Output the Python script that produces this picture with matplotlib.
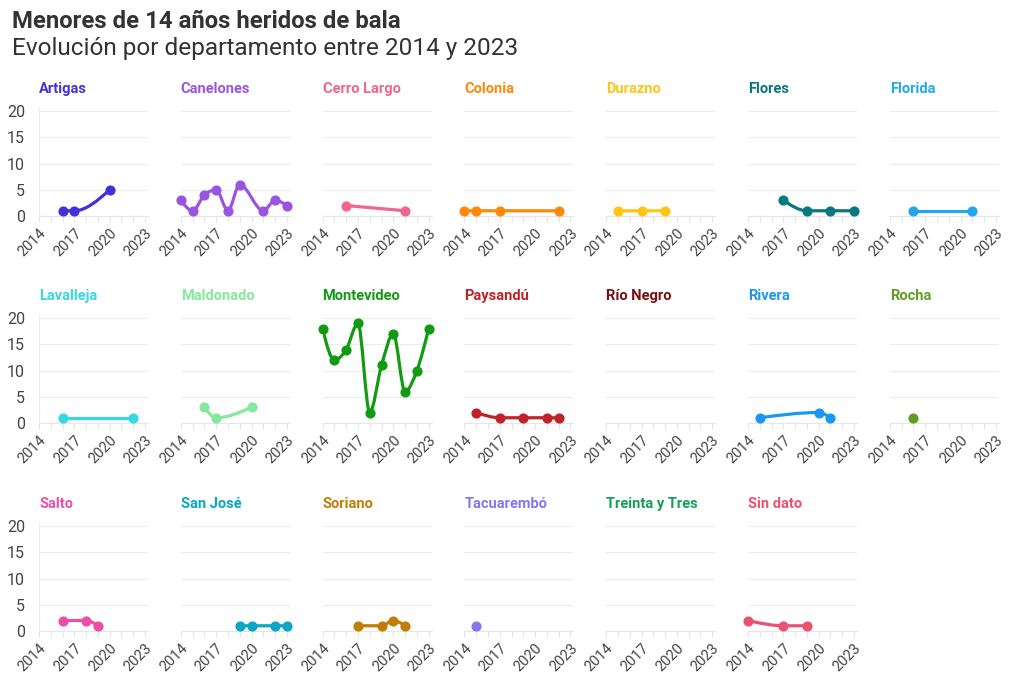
import numpy as np
import matplotlib.pyplot as plt
from matplotlib.path import Path
from matplotlib.patches import PathPatch

plt.rcParams['font.family'] = ['Roboto', 'DejaVu Sans']

################################################################################

years = [2014, 2015, 2016, 2017, 2018, 2019, 2020, 2021, 2022, 2023]

# heridos por año (None = sin registro)
artigas = [None, None, 1, 1, None, None, 5, None, None, None]
canelones = [3, 1, 4, 5, 1, 6, None, 1, 3, 2]
cerro_largo = [None, None, 2, None, None, None, None, 1, None, None]
colonia = [1, 1, None, 1, None, None, None, None, 1, None]
durazno = [None, 1, None, 1, None, 1, None, None, None, None]
flores = [None, None, None, 3, None, 1, None, 1, None, 1]
florida = [None, None, 1, None, None, None, None, 1, None, None]
lavalleja = [None, None, 1, None, None, None, None, None, 1, None]
maldonado = [None, None, 3, 1, None, None, 3, None, None, None]
montevideo = [18, 12, 14, 19, 2, 11, 17, 6, 10, 18]
paysandu = [None, 2, None, 1, None, 1, None, 1, 1, None]
rio_negro = [None] * 10
rivera = [None, 1, None, None, None, None, 2, 1, None, None]
rocha = [None, None, 1, None, None, None, None, None, None, None]
salto = [None, None, 2, None, 2, 1, None, None, None, None]
san_jose = [None, None, None, None, None, 1, 1, None, 1, 1]
soriano = [None, None, None, 1, None, 1, 2, 1, None, None]
tacuarembo = [None, 1, None, None, None, None, None, None, None, None]
treinta_y_tres = [None] * 10
sin_dato = [2, None, None, 1, None, 1, None, None, None, None]

departments = ["Artigas", "Canelones", "Cerro Largo", "Colonia", "Durazno",
               "Flores", "Florida", "Lavalleja", "Maldonado", "Montevideo",
               "Paysandú", "Río Negro", "Rivera", "Rocha", "Salto", "San José",
               "Soriano", "Tacuarembó", "Treinta y Tres", "Sin dato"]
series = [artigas, canelones, cerro_largo, colonia, durazno, flores, florida,
          lavalleja, maldonado, montevideo, paysandu, rio_negro, rivera, rocha,
          salto, san_jose, soriano, tacuarembo, treinta_y_tres, sin_dato]
colors = ["#4430d8", "#9a55e0", "#f0668c", "#ff8a0a", "#ffc414", "#087880",
          "#22a8ea", "#36d8e4", "#86e89c", "#129a12", "#c02228", "#7a1012",
          "#1a98f0", "#5e9e22", "#ea50aa", "#0aa6c4", "#c07e06", "#8478f0",
          "#12a058", "#ea5272"]

################################################################################

def monotone_path(xs, ys):
    # curva monótona en x (como d3.curveMonotoneX)
    xs = np.asarray(xs, float)
    ys = np.asarray(ys, float)
    n = len(xs)
    if n < 3:
        return Path(np.column_stack([xs, ys]))
    h = np.diff(xs)
    s = np.diff(ys) / h
    t = np.zeros(n)
    for i in range(1, n - 1):
        p = (s[i - 1] * h[i] + s[i] * h[i - 1]) / (h[i - 1] + h[i])
        t[i] = (np.sign(s[i - 1]) + np.sign(s[i])) * min(abs(s[i - 1]), abs(s[i]), 0.5 * abs(p))
    t[0] = (3 * s[0] - t[1]) / 2
    t[-1] = (3 * s[-1] - t[-2]) / 2
    verts = [(xs[0], ys[0])]
    codes = [Path.MOVETO]
    for i in range(n - 1):
        dx = h[i] / 3
        verts += [(xs[i] + dx, ys[i] + dx * t[i]),
                  (xs[i + 1] - dx, ys[i + 1] - dx * t[i + 1]),
                  (xs[i + 1], ys[i + 1])]
        codes += [Path.CURVE4] * 3
    return Path(verts, codes)

################################################################################

W, H = 1020, 691
fig = plt.figure(figsize=(W / 100, H / 100), dpi=100)

fig.text(12 / W, 1 - 22 / H, "Menores de 14 años heridos de bala",
         fontsize=17.2, fontweight="bold", color="#333333", va="center")
fig.text(12 / W, 1 - 49 / H, "Evolución por departamento entre 2014 y 2023",
         fontsize=17.6, color="#333333", va="center")

col_left = [39 + 141.8 * c for c in range(7)]
row_bottom = [216, 423, 631]
ax_w, ax_h = 109, 109

for k, (name, vals, color) in enumerate(zip(departments, series, colors)):
    r, c = divmod(k, 7)
    ax = fig.add_axes([col_left[c] / W, 1 - row_bottom[r] / H, ax_w / W, ax_h / H])
    ax.set_xlim(2014, 2023.25)
    ax.set_ylim(0, 20.8)

    xs = [y for y, v in zip(years, vals) if v is not None]
    ys = [v for v in vals if v is not None]
    if len(xs) > 1:
        ax.add_patch(PathPatch(monotone_path(xs, ys), facecolor="none",
                               edgecolor=color, lw=2.3, capstyle="round",
                               joinstyle="round", zorder=3))
    if xs:
        ax.plot(xs, ys, "o", color=color, ms=6.3, zorder=4, clip_on=False)

    ax.set_yticks([0, 5, 10, 15, 20])
    ax.grid(axis="y", color="#ececec", lw=0.8)
    ax.set_axisbelow(True)
    ax.set_xticks([2014, 2017, 2020, 2023])
    ax.set_xticks(years, minor=True)
    ax.tick_params(axis="x", which="both", length=4, color="#e6e6e6", width=0.8)
    ax.tick_params(axis="y", length=0, pad=10, labelsize=11.5, labelcolor="#444444")
    for lab in ax.get_xticklabels():
        lab.set_rotation(45)
        lab.set_ha("right")
        lab.set_rotation_mode("anchor")
        lab.set_fontsize(10.5)
        lab.set_color("#444444")
    if c != 0:
        ax.tick_params(axis="y", labelleft=False)
    for side in ["top", "right"]:
        ax.spines[side].set_visible(False)
    ax.spines["left"].set_color("#ececec" if c == 0 else "none")
    ax.spines["bottom"].set_color("#e6e6e6")
    ax.spines["left"].set_linewidth(0.8)
    ax.spines["bottom"].set_linewidth(0.8)

    ax.annotate(name, xy=(0, 1), xycoords="axes fraction", xytext=(0, 13.3),
                textcoords="offset points", fontsize=10.5, fontweight="bold",
                color=color, va="center", ha="left")

fig.savefig("out.png", dpi=100)
